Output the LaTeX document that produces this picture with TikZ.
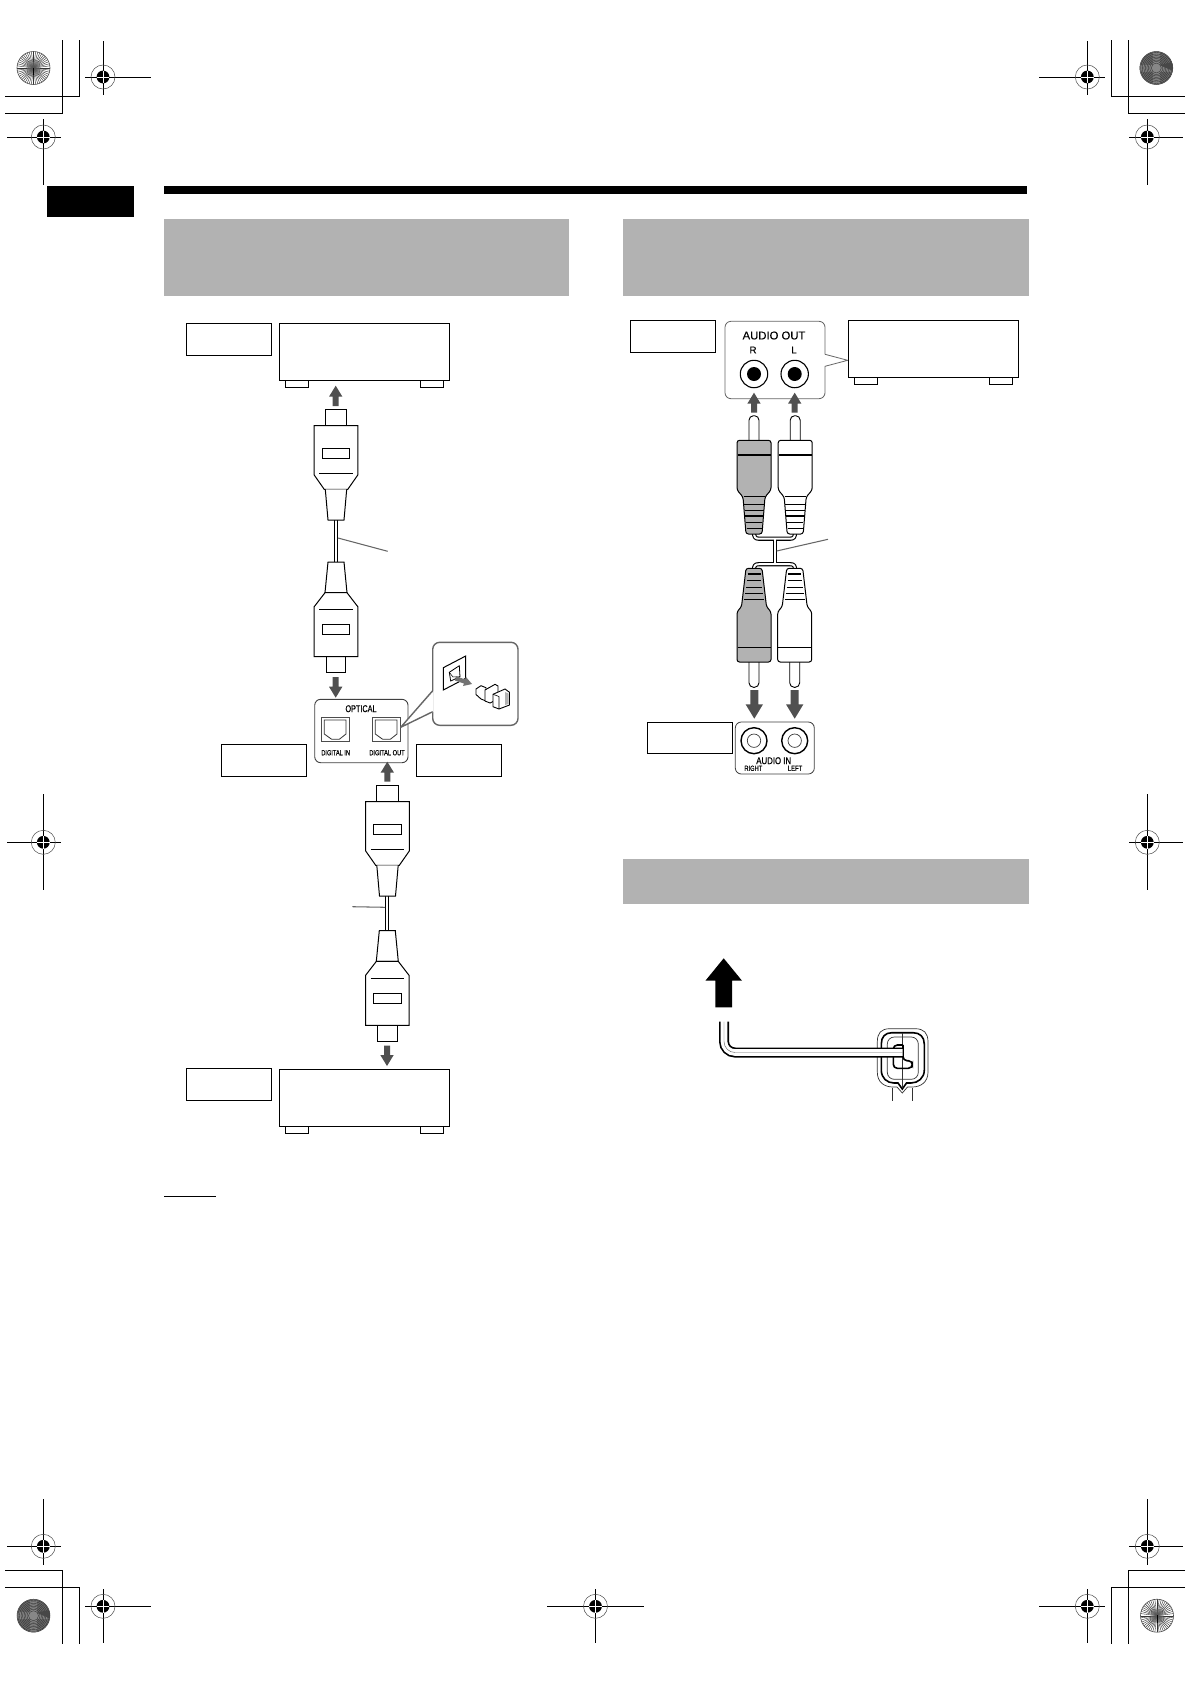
\documentclass[tikz,border=0pt]{standalone}
\usepackage{fontspec}
\setmainfont{Liberation Sans}
\definecolor{band}{HTML}{B2B2B2}
\definecolor{arrowgray}{HTML}{505050}
\definecolor{panelgray}{HTML}{666666}
\tikzset{
  thinbox/.style={draw=black,line width=0.9pt,fill=white},
  plugline/.style={draw=black,line width=1pt,line join=miter},
  panel/.style={draw=panelgray,line width=0.8pt,rounded corners=6pt,fill=white},
  leader/.style={draw=panelgray,line width=1.05pt},
  reg/.style={line width=0.85pt},
  small/.style={inner sep=0pt,font=\fontsize{7.4}{8}\selectfont\addfontfeature{FakeBold=0.3}},
  mid/.style={inner sep=0pt,font=\fontsize{9.8}{10}\selectfont\addfontfeature{FakeBold=0.3}}
}
\newcommand{\regmark}[6]{% cx cy hx1 hx2 vy1 vy2
  \draw[reg] (#3,#2) -- (#4,#2) (#1,#5) -- (#1,#6);
  \draw[line width=0.5pt,draw=black!70] (#1,#2) circle (12pt);
  \fill[black] (#1,#2) circle (6.4pt);
  \draw[white,line width=0.7pt] (#1-6.4,#2) -- (#1+6.4,#2) (#1,#2-6.4) -- (#1,#2+6.4);
}
\newcommand{\spokewheel}[2]{%
  \fill[white] (#1,#2) circle (16.5pt);
  \begin{scope}
    \clip (#1,#2) circle (16.5pt);
    \foreach \a in {0,7.5,...,352.5}{\draw[line width=0.42pt,black!80] (#1,#2) -- ++(\a:17pt);}
    \fill[gray,opacity=0.45] (#1,#2) circle (6.5pt);
    \draw[line width=0.8pt] (#1,#2-0.5) -- (#1,#2+7);
  \end{scope}
  \draw[line width=0.6pt,black!70] (#1,#2) circle (16.5pt);
}
\newcommand{\moirewheel}[2]{%
  \fill[black!58] (#1,#2) circle (16.5pt);
  \begin{scope}
    \clip (#1,#2) circle (16.5pt);
    \fill[black!47] (#1-3.5,#2-17) rectangle (#1+3.5,#2+17);
    \fill[black!47] (#1-17,#2-3.5) rectangle (#1+17,#2+3.5);
    \foreach \r in {5,6.5,...,17}{\draw[line width=0.4pt,black!80] (#1,#2) circle (\r pt);}
    \fill[black!72] (#1+3,#2-3) -- (#1+17,#2-6) -- (#1+17,#2+3) -- cycle;
  \end{scope}
  \draw[line width=0.5pt,black!75] (#1,#2) circle (16.5pt);
}
\newcommand{\arrowup}[3]{% x tip tail
  \fill[arrowgray] (#1,#2) -- (#1+6.7,#2+11) -- (#1+3,#2+11) -- (#1+3,#3) -- (#1-3,#3) -- (#1-3,#2+11) -- (#1-6.7,#2+11) -- cycle;
}
\newcommand{\arrowdown}[3]{%
  \fill[arrowgray] (#1,#2) -- (#1+6.7,#2-11) -- (#1+3,#2-11) -- (#1+3,#3) -- (#1-3,#3) -- (#1-3,#2-11) -- (#1-6.7,#2-11) -- cycle;
}
\newcommand{\bigdown}[1]{%
  \fill[arrowgray] (#1,718.7) -- (#1+8.7,704.3) -- (#1+4,704.3) -- (#1+4,690) -- (#1-4,690) -- (#1-4,704.3) -- (#1-8.7,704.3) -- cycle;
}
\newcommand{\plugtop}[2]{% optical plug, tip upwards
  \begin{scope}[shift={(#1,#2)}]
    \draw[plugline,fill=white] (-10.7,16.4) -- (-10.7,0) -- (10.7,0) -- (10.7,16.4);
    \draw[plugline,fill=white] (-21.8,16.4) -- (21.8,16.4) -- (21.8,65.7) -- (11.8,80) -- (-11.8,80) -- (-21.8,65.7) -- cycle;
    \draw[plugline] (-16.7,64) -- (16.7,64);
    \draw[plugline] (-13.7,39) rectangle (13.7,49);
    \draw[plugline,fill=white] (-10.7,80) -- (-8,110.7) -- (8,110.7) -- (10.7,80);
  \end{scope}
}
\newcommand{\plugbot}[2]{% optical plug, tip downwards
  \begin{scope}[shift={(#1,#2)}]
    \draw[plugline,fill=white] (-9.7,94.7) -- (-9.7,110.7) -- (9.7,110.7) -- (9.7,94.7);
    \draw[plugline,fill=white] (-8,0) -- (8,0) -- (11,30.7) -- (-11,30.7) -- cycle;
    \draw[plugline,fill=white] (-11,30.7) -- (11,30.7) -- (21.8,44.7) -- (21.8,94.7) -- (-21.8,94.7) -- (-21.8,44.7) -- cycle;
    \draw[plugline] (-16.7,47.3) -- (16.7,47.3);
    \draw[plugline] (-13.7,62.3) rectangle (13.7,72.7);
  \end{scope}
}
\newcommand{\device}[2]{% left x, top y
  \begin{scope}[shift={(#1,#2)}]
    \draw[plugline,line width=0.9pt,fill=white] (5.8,57) rectangle (29.2,64);
    \draw[plugline,line width=0.9pt,fill=white] (141,57) rectangle (164.4,64);
    \draw[draw=black,line width=1pt,fill=white] (0,0) rectangle (170.4,57);
  \end{scope}
}
\newcommand{\optport}[1]{%
  \begin{scope}[shift={(#1,717.3)}]
    \draw[line width=0.8pt,draw=black!70] (0,0) rectangle (28.4,24.4);
    \draw[line width=0.8pt,draw=black!80] (3,2.7) -- (3,16.7) -- (10.4,22) -- (18,22) -- (24.7,16.7) -- (24.7,2.7) -- cycle;
  \end{scope}
}
\newcommand{\rcatop}[2]{%
  \begin{scope}[shift={(#1,0)}]
    \draw[line width=0.9pt,fill=white,rounded corners=4.5pt] (-5,441) -- (-5,415.7) -- (5,415.7) -- (5,441);
    \draw[line width=1pt,fill=#2,rounded corners=2.5pt] (-17,440.3) -- (17,440.3) -- (17,490) -- (11,497) -- (8,534) -- (-8,534) -- (-11,497) -- (-17,490) -- cycle;
    \draw[line width=1.3pt] (-16.5,455) -- (16.5,455);
    \draw[line width=1.2pt] (-10.5,496.7) -- (10.5,496.7);
    \draw[line width=0.6pt] (-10,504) -- (10,504) (-9.5,510) -- (9.5,510) (-8,522.3) -- (8,522.3) (-7.5,528.3) -- (7.5,528.3);
    \draw[line width=1.2pt] (-9,516) -- (9,516);
  \end{scope}
}
\newcommand{\rcabot}[2]{%
  \begin{scope}[shift={(#1,0)}]
    \draw[line width=0.9pt,fill=white,rounded corners=4.5pt] (-5,661) -- (-5,687.3) -- (5,687.3) -- (5,661);
    \draw[line width=1pt,fill=#2,rounded corners=2.5pt] (-8,568.3) -- (8,568.3) -- (12.5,606.7) -- (17,611.7) -- (17,662) -- (-17,662) -- (-17,611.7) -- (-12.5,606.7) -- cycle;
    \draw[line width=0.8pt] (-16.5,647.3) -- (16.5,647.3);
    \draw[line width=1.2pt] (-6.5,574) -- (6.5,574);
    \draw[line width=0.6pt] (-7,580.7) -- (7,580.7) (-8,587.3) -- (8,587.3) (-8.8,593.3) -- (8.8,593.3) (-10,599.3) -- (10,599.3);
  \end{scope}
}
\begin{document}
\begin{tikzpicture}[x=1pt,y=-1pt]
\useasboundingbox (0,0) rectangle (1190,1684);
\fill[white] (0,0) rectangle (1190,1684);
% ---- page furniture
\regmark{103}{77}{85}{151}{41}{95}
\regmark{43.3}{137}{7}{61}{119}{185}
\regmark{1087.3}{77}{1039}{1105}{41}{95}
\regmark{1147.3}{137}{1129}{1183}{119}{185}
\regmark{43.3}{842.3}{7}{61}{794}{889.7}
\regmark{1147.3}{842.3}{1129}{1183}{794}{889.7}
\regmark{43.3}{1546.3}{7}{61}{1499}{1565}
\regmark{103}{1606.3}{85}{151}{1589}{1642.7}
\regmark{595.5}{1606.3}{547}{643.5}{1589}{1642.7}
\regmark{1087.3}{1606.3}{1039}{1105}{1589}{1642.7}
\regmark{1147.3}{1546.3}{1129}{1183}{1499}{1565}
\draw[reg] (62.3,40) -- (62.3,113.3) -- (5,113.3) (79.3,40) -- (79.3,96.3) -- (5,96.3);
\draw[reg] (1111.3,40) -- (1111.3,96.7) -- (1185,96.7) (1128.3,40) -- (1128.3,113.7) -- (1185,113.7);
\draw[reg] (5,1570.3) -- (62.3,1570.3) -- (62.3,1644) (5,1587.3) -- (79.3,1587.3) -- (79.3,1644);
\draw[reg] (1185,1570.3) -- (1128.3,1570.3) -- (1128.3,1644) (1185,1587.3) -- (1111.3,1587.3) -- (1111.3,1644);
\spokewheel{33.5}{68}
\moirewheel{1156.3}{68}
\moirewheel{33.5}{1615.7}
\spokewheel{1157}{1615.7}
\fill[black] (47,186) rectangle (134,217);
\fill[black] (164,186) rectangle (1027,194);
\fill[band] (164,219) rectangle (569,296);
\fill[band] (623,219) rectangle (1028.5,296);
\fill[band] (623,859) rectangle (1028.5,904);
\draw[line width=0.9pt] (164,1196.3) -- (216,1196.3);
% ---- left column: label boxes
\draw[thinbox] (186.3,323.3) rectangle (271.6,355.5);
\draw[thinbox] (221.6,744.3) rectangle (306.7,776.3);
\draw[thinbox] (416.3,744.3) rectangle (501.7,776.3);
\draw[thinbox] (186.3,1068.3) rectangle (271.6,1100.3);
\device{279.5}{323}
\device{279.2}{1069}
% ---- left column: cables and plugs
\coordinate (cabA1) at (336,518);
\coordinate (cabA2) at (336,564);
\coordinate (cabB1) at (387,894);
\coordinate (cabB2) at (387,932);
\draw[line width=4.6pt,black] (cabA1) -- (cabA2) (cabB1) -- (cabB2);
\draw[line width=2.5pt,white] (cabA1) -- (cabA2) (cabB1) -- (cabB2);
\plugtop{336}{409.3}
\plugbot{336}{562}
\plugtop{387.5}{785.3}
\plugbot{387.3}{930.7}
\draw[leader] (338,538) -- (387.7,551.3);
\draw[leader] (352.3,906.7) -- (385,907.3);
\arrowup{335.7}{385.7}{406}
\arrowdown{387}{1066}{1045.7}
% ---- optical panel and callout
\draw[panel,draw=black!75,line width=0.9pt] (314.7,699.3) rectangle (408,762.7);
\arrowdown{335.7}{697.7}{677}
\arrowup{387.3}{761.7}{781.7}
\optport{321.3}
\optport{372.3}
\node[mid] (optical) at (361,708.7) {\scalebox{0.74}[1]{OPTICAL}};
\node[small] (digin) at (335.7,752.7) {\scalebox{0.76}[1]{DIGITAL IN}};
\node[small] (digout) at (387,752.7) {\scalebox{0.77}[1]{DIGITAL OUT}};
\draw[draw=panelgray,line width=1.4pt,fill=white,rounded corners=7pt] (432.7,642.3) rectangle (518,725.3);
\fill[white] (400.7,727.3) -- (433.7,690.7) -- (433.7,711.7) -- cycle;
\draw[draw=panelgray,line width=1.4pt] (400.7,727.3) -- (432.7,690.7) (400.7,727.3) -- (432.7,711.7);
% callout content
\draw[line width=1pt,fill=white] (443.3,667.7) -- (465.7,656) -- (465.7,678.3) -- (443.3,690) -- cycle;
\draw[line width=0.8pt,fill=white] (449.3,672.3) -- (459.3,665.7) -- (460,676.7) -- (450.7,681) -- cycle;
\draw[line width=0.5pt] (449.3,672.3) -- (453,677) -- (460,676.7);
\fill[black!55] (456,676) -- (465,679.5) -- (466,677) -- (472,684) -- (463,686) -- (464,683.5) -- (455,680.5) -- cycle;
\draw[line width=0.9pt,fill=white] (476,689) -- (481,685.7) -- (486,687.7) -- (486,701) -- (481,699) -- (476,694.5) -- cycle;
\draw[line width=0.9pt,fill=white] (485,690) -- (495,684.3) -- (498,686) -- (498,699) -- (490,703) -- (485,701) -- cycle;
\draw[line width=0.9pt,fill=white] (493,694.3) -- (505,689) -- (509.5,692.3) -- (509.5,705) -- (499,709) -- (493,706.7) -- cycle;
\draw[line width=0.6pt] (499,696.5) -- (499,709) (499,696.5) -- (493,694.3);
\fill[black!30] (505,692) -- (508.5,693.5) -- (508.5,704) -- (505,705) -- cycle;
% ---- right column top
\draw[thinbox] (630.3,320.3) rectangle (715.7,352.3);
\draw[panel] (725,321.3) rectangle (825,398.7);
\fill[white] (824,354.3) -- (847.7,360.3) -- (824,366.3) -- cycle;
\draw[draw=panelgray,line width=0.8pt] (825,354.3) -- (847.7,360.3) -- (825,366.3);
\device{848.3}{320.7}
\node[inner sep=0pt,font=\fontsize{11.3}{12}\selectfont\addfontfeature{FakeBold=0.1}] (audioout) at (774,335.5) {AUDIO OUT};
\node[inner sep=0pt,font=\fontsize{9.8}{10}\selectfont\addfontfeature{FakeBold=0.2}] (lblR) at (753,350) {R};
\node[inner sep=0pt,font=\fontsize{9.8}{10}\selectfont\addfontfeature{FakeBold=0.2}] (lblL) at (794,350) {L};
\foreach \x in {754,794.7}{
  \draw[line width=1.1pt,fill=white] (\x,374) circle (13.7pt);
  \fill[black] (\x,374) circle (7pt);
}
\arrowup{754}{392.7}{412.7}
\arrowup{794.7}{392.7}{412.7}
% RCA cable
\coordinate (stemT) at (775,538.7);
\coordinate (stemB) at (775,564.2);
\foreach \c/\w in {black/4.2,white/2}{
  \draw[\c,line width=\w pt,line join=round] (754,532) .. controls (754,537) and (755,538.7) .. (759,538.7) -- (790,538.7) .. controls (794,538.7) and (795,537) .. (795,532);
  \draw[\c,line width=\w pt,line join=round] (754,570) .. controls (754,565.5) and (755,564.2) .. (759,564.2) -- (790,564.2) .. controls (794,564.2) and (795,565.5) .. (795,570);
  \draw[\c,line width=\w pt] (stemT) -- (stemB);
}
\rcatop{754}{band}
\rcatop{795.2}{white}
\rcabot{754}{band}
\rcabot{794.7}{white}
\draw[leader] (776.7,551) -- (828,539.3);
\bigdown{754.3}
\bigdown{794.7}
% audio in panel
\draw[thinbox] (647.3,722.3) rectangle (732.7,753.3);
\draw[panel,draw=black!75] (735.3,722) rectangle (814.3,774);
\foreach \x in {754,794.7}{
  \draw[line width=1.4pt] (\x,740.7) circle (13pt);
  \draw[line width=0.7pt,draw=black!75] (\x,740.7) circle (6.7pt);
}
\node[inner sep=0pt,font=\fontsize{9.8}{10}\selectfont\addfontfeature{FakeBold=0.8}] (audioin) at (773.7,760.7) {\scalebox{0.8}[1]{AUDIO IN}};
\node[small,font=\fontsize{7.4}{8}\selectfont\addfontfeature{FakeBold=0.8}] (lblright) at (753.3,768.3) {\scalebox{0.77}[1]{RIGHT}};
\node[small,font=\fontsize{7.4}{8}\selectfont\addfontfeature{FakeBold=0.8}] (lblleft) at (795,768.3) {\scalebox{0.8}[1]{LEFT}};
% ---- power cord
\fill[black] (723.7,958.3) -- (742,980.7) -- (732,980.7) -- (732,1007.3) -- (715.4,1007.3) -- (715.4,980.7) -- (705.4,980.7) -- cycle;
\draw[line width=0.7pt,draw=black!80] (890,1028.7) -- (915,1028.7) .. controls (924,1028.7) and (928,1033) .. (928,1042) -- (928,1072) .. controls (928,1082) and (921,1087) .. (912,1087) -- (907.5,1087) -- (902.3,1093) -- (897,1087) -- (893,1087) .. controls (884,1087) and (877.3,1082) .. (877.3,1072) -- (877.3,1042) .. controls (877.3,1033) and (881,1028.7) .. (890,1028.7) -- cycle;
\draw[line width=0.7pt,black!80] (892.3,1087.5) -- (892.3,1100.7) (912.3,1087.5) -- (912.3,1100.7);
\draw[line width=1.6pt] (892,1032.7) -- (913,1032.7) .. controls (920,1032.7) and (924.3,1037) .. (924.3,1044) -- (924.3,1070) .. controls (924.3,1078) and (918,1083) .. (911,1083) -- (906.5,1083) -- (902.3,1089) -- (898,1083) -- (894,1083) .. controls (887,1083) and (881.3,1078) .. (881.3,1070) -- (881.3,1044) .. controls (881.3,1037) and (885,1032.7) .. (892,1032.7) -- cycle;
\draw[line width=0.7pt,draw=black!80,rounded corners=7pt] (887.3,1037) rectangle (918.3,1079.3);
\draw[line width=0.55pt,black!80] (902.3,1033) -- (902.3,1088);
\draw[line width=1.6pt,rounded corners=4pt] (903,1045) -- (893.3,1045) -- (893.3,1068.3) -- (912.3,1068.3) -- (912.3,1060.7) -- (903,1060.7) -- (903,1045);
\coordinate (cordA) at (724,1021.7);
\coordinate (cordB) at (902.7,1052.5);
\draw[black,line width=10pt,rounded corners=11pt] (cordA) |- (cordB);
\draw[white,line width=6.6pt,rounded corners=11pt] ([yshift=2pt]cordA) |- (cordB);
\draw[black!60,line width=0.45pt,rounded corners=11pt] (cordA) |- (cordB);
\end{tikzpicture}
\end{document}
